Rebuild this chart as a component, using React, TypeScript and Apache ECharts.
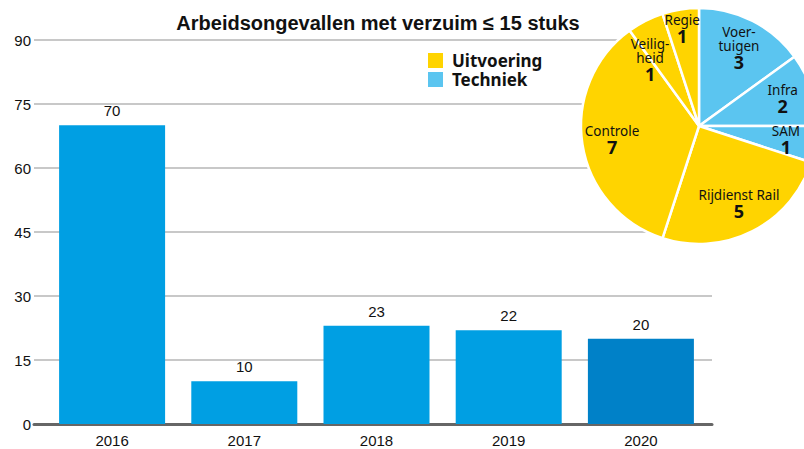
import React, { useEffect, useRef } from "react";
import * as echarts from "echarts";

const years = ["2016", "2017", "2018", "2019", "2020"];
const accidents = [70, 10, 23, 22, 20];
const yTicks = [0, 15, 30, 45, 60, 75, 90];

const pieNames = ["Voer-\ntuigen", "Infra", "SAM", "Rijdienst Rail", "Controle", "Veilig-\nheid", "Regie"];
const pieValues = [3, 2, 1, 5, 7, 1, 1];
const pieGroups = ["Techniek", "Techniek", "Techniek", "Uitvoering", "Uitvoering", "Uitvoering", "Uitvoering"];
const legendItems = ["Uitvoering", "Techniek"];

const YELLOW = "#FFD400";
const LIGHTBLUE = "#5BC5F0";
const BAR = "#009FE3";
const BAR_LAST = "#0081C8";
const groupColor: Record<string, string> = { Uitvoering: YELLOW, Techniek: LIGHTBLUE };

const labelOffsets: Record<string, number[]> = {
  Regie: [-3, -10],
  "Veilig-\nheid": [-9, 12],
};

export default function App() {
  const ref = useRef<HTMLDivElement>(null);
  useEffect(() => {
    if (!ref.current) return;
    const chart = echarts.init(ref.current, null, { renderer: "svg" });
    const font = "'Liberation Sans', Arial, Helvetica, sans-serif";
    const pieFont = "'Noto Sans', 'Open Sans', sans-serif";
    const pieData = pieNames.map((n, i) => ({
      name: n,
      value: pieValues[i],
      itemStyle: { color: groupColor[pieGroups[i]] },
    }));
    const labelData = pieNames.map((n, i) => ({
      name: n,
      value: pieValues[i],
      label: labelOffsets[n] ? { offset: labelOffsets[n] } : undefined,
    }));
    chart.setOption({
      animation: false,
      title: {
        text: "Arbeidsongevallen met verzuim ≤ 15 stuks",
        left: 373,
        textAlign: "center",
        top: 8,
        textStyle: { fontFamily: font, fontSize: 20, fontWeight: "bold", color: "#111" },
      },
      grid: [
        { left: 34, right: 92, top: 40, bottom: 25 },
        { left: 46, right: 97, top: 40, bottom: 25 },
      ],
      xAxis: [
        {
          gridIndex: 0,
          type: "value",
          min: 0,
          max: 1,
          axisLine: { show: true, onZero: false, lineStyle: { color: "#666", width: 3 } },
          axisTick: { show: false },
          axisLabel: { show: false },
          splitLine: { show: false },
        },
        {
          gridIndex: 1,
          type: "category",
          data: years,
          axisLine: { show: false },
          axisTick: { show: false },
          axisLabel: { margin: 9, fontFamily: font, fontSize: 15, color: "#111" },
        },
      ],
      yAxis: [
        {
          gridIndex: 0,
          type: "value",
          min: 0,
          max: 90,
          interval: 15,
          axisLine: { show: false },
          axisTick: { show: false },
          axisLabel: {
            margin: 3,
            fontFamily: font,
            fontSize: 15,
            color: "#111",
            formatter: (v: number) => (yTicks.includes(v) ? String(v) : ""),
          },
          splitLine: { lineStyle: { color: "#c8c8c8", width: 2 } },
        },
        {
          gridIndex: 1,
          type: "value",
          min: 0,
          max: 90,
          interval: 15,
          show: false,
          splitLine: { show: false },
        },
      ],
      series: [
        {
          type: "bar",
          xAxisIndex: 1,
          yAxisIndex: 1,
          barWidth: 106,
          data: accidents.map((v, i) => ({
            value: v,
            itemStyle: { color: i === accidents.length - 1 ? BAR_LAST : BAR },
          })),
          label: {
            show: true,
            position: "top",
            distance: 7,
            fontFamily: font,
            fontSize: 15,
            color: "#111",
          },
          z: 3,
        },
        {
          type: "pie",
          center: [699, 126],
          radius: [0, 118],
          startAngle: 90,
          clockwise: true,
          silent: true,
          label: { show: false },
          labelLine: { show: false },
          itemStyle: { borderColor: "#fff", borderWidth: 2.5 },
          data: pieData,
          z: 5,
        },
        {
          type: "pie",
          center: [699, 126],
          radius: [52, 118],
          startAngle: 90,
          clockwise: true,
          silent: true,
          avoidLabelOverlap: false,
          labelLayout: { hideOverlap: false },
          itemStyle: { color: "rgba(0,0,0,0)", borderWidth: 0 },
          labelLine: { show: false },
          label: {
            show: true,
            position: "inside",
            color: "#111",
            formatter: (p: any) =>
              String(p.name)
                .split("\n")
                .map((s: string) => `{n|${s}}`)
                .join("\n") + `\n{v|${p.value}}`,
            rich: {
              n: { fontFamily: pieFont, fontSize: 13.5, lineHeight: 14, color: "#111" },
              v: { fontFamily: pieFont, fontSize: 18, fontWeight: "bold", lineHeight: 18, color: "#111" },
            },
          },
          data: labelData,
          z: 6,
        },
      ],
      graphic: legendItems.flatMap((name, i) => [
        {
          type: "rect",
          shape: { x: 428, y: 53 + i * 19, width: 15, height: 15 },
          style: { fill: groupColor[name] },
        },
        {
          type: "text",
          x: 452,
          y: 60.5 + i * 19,
          style: {
            text: name,
            fontFamily: pieFont,
            fontSize: 17,
            lineHeight: 17,
            fontWeight: "bold",
            fill: "#111",
            textVerticalAlign: "middle",
          },
        },
      ]),
    });
    return () => chart.dispose();
  }, []);
  return <div ref={ref} style={{ width: 804, height: 449, position: "absolute", left: 0, top: 0 }} />;
}
